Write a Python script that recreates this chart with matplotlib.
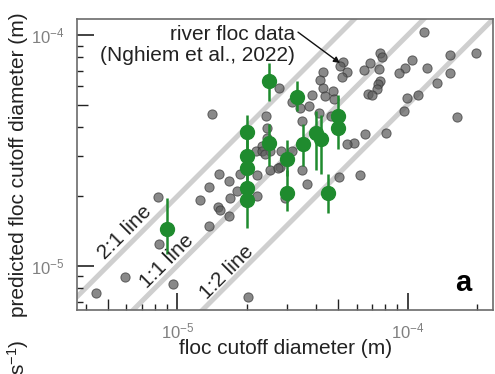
import numpy as np
import matplotlib
matplotlib.use('Agg')
import matplotlib.pyplot as plt
from matplotlib.ticker import FixedLocator, NullFormatter, LogFormatterSciNotation

plt.rcParams['font.family'] = ['Liberation Sans', 'DejaVu Sans']
plt.rcParams['mathtext.fontset'] = 'custom'
plt.rcParams['mathtext.rm'] = 'Liberation Sans'
plt.rcParams['mathtext.it'] = 'Liberation Sans:italic'

# river floc data (Nghiem et al., 2022), diameters in micrometres
river_obs_um = [118, 75.5, 77.4, 104, 153, 198, 68.5, 64.9, 75.1, 97.5,
                91.4, 121, 153, 75.5, 74.3, 73.6, 66.9, 70, 134, 98.8,
                111, 96.4, 164, 65.1, 80.7, 58.2, 54.7, 62.3, 50.1, 52.5,
                50.8, 54.4, 51.7, 43, 41.8, 42.7, 43.8, 47.5, 48.1, 38.4,
                34.1, 37.3, 41, 34.7, 46.5, 31.4, 27.6, 24.3, 24.4, 24.5,
                23.2, 22, 23.3, 25.3, 28.3, 31.4, 24, 27.9, 25.3, 27.4,
                34.7, 36.4, 29.3, 14.1, 15.1, 16.8, 18.7, 22.1, 18.1, 16.9,
                22.1, 13.7, 12.5, 15, 15.4, 16.8, 13.7, 8.25, 8.33, 5.93,
                4.46, 9.61, 20.3]
river_pred_um = [103, 83.4, 80.7, 78.3, 81.9, 83.2, 75.6, 70.7, 71.2, 71.7,
                 68.2, 71.7, 68.8, 63.3, 61.3, 58.5, 55.3, 55, 62.2, 53.4,
                 55, 46.9, 44.2, 37.2, 37.8, 33.9, 33.7, 24.8, 24.2, 76.4,
                 73.4, 69.1, 65.6, 69.1, 63.8, 58.9, 54.6, 57.4, 52.8, 54.8,
                 48.5, 49.3, 46.1, 42.5, 44.6, 51.4, 59, 44.6, 39.5, 35.8,
                 33.1, 31.6, 31.4, 31.5, 31.5, 31.5, 30.5, 26.9, 26, 26.5,
                 25.9, 22.6, 19.7, 45.6, 25.1, 23.3, 25, 24.7, 21.1, 19.7,
                 20, 22, 19.3, 17.9, 17.5, 16.5, 14.9, 19.8, 12.4, 8.91,
                 7.65, 8.33, 7.32]

# this study: measured cutoff vs model prediction with its range
cutoff_um = [25, 33, 20, 25, 50, 50, 40, 42, 35, 20, 30, 20, 20, 20, 30, 45, 9]
pred_um = [63, 54, 38, 34, 44.6, 39.5, 37.6, 35.6, 33.7, 30, 29, 26.5, 21.7,
           19.3, 20.7, 20.6, 14.5]
pred_lo_um = [52, 47, 32, 27, 37, 32, 26, 25, 27, 25, 24.5, 22, 18, 14.6,
              17.3, 16.9, 11.3]
pred_hi_um = [76, 63, 45, 41, 55, 47, 47, 45, 41, 36, 35, 32, 26, 23, 26,
              25, 19.7]

um = 1e-6
river_x = np.array(river_obs_um) * um
river_y = np.array(river_pred_um) * um
x = np.array(cutoff_um) * um
y = np.array(pred_um) * um
yerr = [y - np.array(pred_lo_um) * um, np.array(pred_hi_um) * um - y]

fig = plt.figure(figsize=(4.95, 3.74), dpi=100)
ax = fig.add_axes([0.156, 0.171, 0.840, 0.778])
ax.set_xscale('log')
ax.set_yscale('log')

# 2:1, 1:1 and 1:2 reference lines
ref = np.array([1e-7, 1e-2])
for k in (2, 1, 0.5):
    ax.plot(ref, k * ref, color='#cfcfcf', lw=3.6, zorder=1,
            solid_capstyle='butt')

ax.scatter(river_x, river_y, s=44, c='#5c5c5c', alpha=0.72,
           edgecolors='#383838', linewidths=0.7, zorder=2)
ax.errorbar(x, y, yerr=yerr, fmt='o', ms=10, color='#1f8b2e', mec='#1f8b2e',
            ecolor='#1f8b2e', elinewidth=1.8, capsize=0, zorder=3)

ax.set_xlim(3.68e-6, 2.344e-4)
ax.set_ylim(6.43e-6, 1.173e-4)

# ticks: decades long, 5x longer than the other minors
majors = [1e-6, 1e-5, 1e-4, 1e-3]
minors = [m * d for d in (1e-6, 1e-5, 1e-4) for m in range(2, 10)]
for axis in (ax.xaxis, ax.yaxis):
    axis.set_major_locator(FixedLocator(majors))
    axis.set_minor_locator(FixedLocator(minors))
    axis.set_major_formatter(LogFormatterSciNotation())
    axis.set_minor_formatter(NullFormatter())

ax.tick_params(which='both', direction='in', color='#222222')
ax.tick_params(which='major', length=12, width=1.2, labelsize=12,
               labelcolor='#808080', pad=8)
ax.tick_params(which='minor', length=4.5, width=1.0)
ax.tick_params(axis='y', which='major', pad=9)

for axis in (ax.xaxis, ax.yaxis):
    locs = axis.get_minorticklocs()
    for tick, loc in zip(axis.get_minor_ticks(len(locs)), locs):
        mant = loc / 10 ** np.floor(np.log10(loc) + 1e-9)
        if abs(mant - 5) < 1e-6:
            tick.tick1line.set_markersize(8)

for sp in ax.spines.values():
    sp.set_color('#6b6b6b')
    sp.set_linewidth(1.2)

ax.set_xlabel('floc cutoff diameter (m)', fontsize=15, color='#222222')
ax.set_ylabel('predicted floc cutoff diameter (m)', fontsize=15,
              color='#222222')
ax.xaxis.set_label_coords(0.5, -0.1)
ax.yaxis.set_label_coords(-0.118, 0.5)

# labels along the reference lines
line_kw = dict(rotation=45, rotation_mode='anchor', ha='center', va='center',
               fontsize=15, color='#222222', zorder=4)
ax.text(5.93e-6, 13.9e-6, '2:1 line', **line_kw)
ax.text(9.02e-6, 10.5e-6, '1:1 line', **line_kw)
ax.text(16.4e-6, 9.39e-6, '1:2 line', **line_kw)

ax.text(0.5237, 0.911, 'river floc data\n(Nghiem et al., 2022)',
        transform=ax.transAxes, ha='right', va='center', fontsize=15,
        color='#222222', linespacing=1.1)
ax.annotate('', xy=(50.8e-6, 75.6e-6), xytext=(0.531, 0.955),
            textcoords='axes fraction',
            arrowprops=dict(arrowstyle='-|>', color='#111111', lw=1.0,
                            mutation_scale=9, shrinkA=0, shrinkB=0))

ax.text(0.928, 0.093, 'a', transform=ax.transAxes, ha='center', va='center',
        fontsize=21, fontweight='bold')

# tail of the next panel's y label
fig.text(0.036, 0.091, r'$\mathregular{s^{-1}}$)', rotation=90, ha='center',
         va='top', fontsize=15, color='#222222')

fig.savefig('out.png', dpi=100)
